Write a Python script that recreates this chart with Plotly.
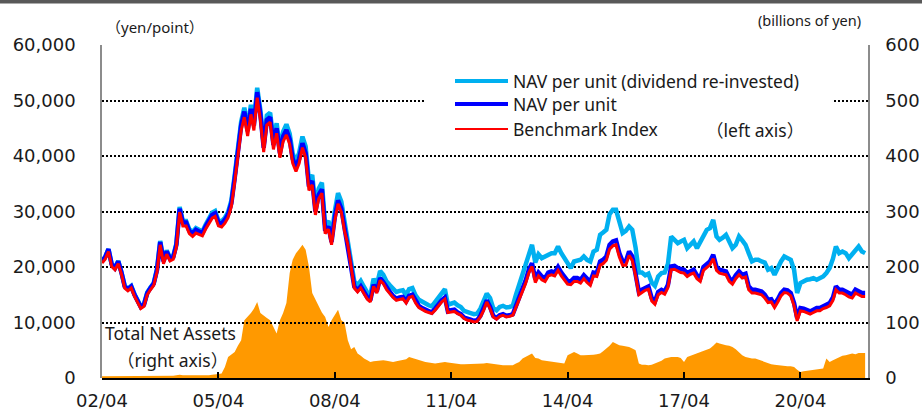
import numpy as np
import pandas as pd
import plotly.graph_objects as go

START = "2002-04-01"  # first monthly observation (April 2002)

# NAV per unit, thousands of yen (monthly; one row per calendar year, 2002 starts in April)
nav_rows = [
    [21.0, 21.8, 23.2, 20.5, 19.8, 21.0, 19.0, 16.5, 16.0],
    [16.5, 15.0, 14.0, 12.8, 13.2, 15.3, 16.2, 17.0, 19.5, 24.5, 21.0, 22.8],
    [21.5, 21.8, 24.0, 30.5, 28.0, 28.0, 26.5, 26.0, 26.7, 26.3, 26.1, 27.3],
    [28.5, 29.4, 29.7, 28.0, 27.8, 28.5, 29.5, 31.5, 36.0, 41.0, 45.5, 48.0],
    [44.5, 48.5, 45.5, 51.5, 47.5, 41.5, 46.5, 47.0, 42.0, 45.0, 40.5, 43.5],
    [44.7, 43.0, 39.5, 38.0, 39.5, 42.3, 40.5, 34.5, 35.5, 30.0, 33.0, 34.0],
    [26.5, 27.3, 24.5, 29.0, 32.0, 30.5, 27.0, 24.5, 20.5, 16.5, 15.8, 16.5],
    [15.5, 14.5, 14.0, 16.8, 15.6, 18.0, 17.3, 16.2, 15.5, 14.8, 14.3, 14.5],
    [14.6, 13.8, 14.8, 15.0, 13.8, 13.0, 12.6, 12.3, 12.0, 11.8, 12.5, 13.3],
    [14.0, 14.5, 12.0, 12.2, 12.3, 11.8, 11.5, 10.9, 10.6, 10.5, 10.3, 10.4],
    [11.2, 12.5, 14.0, 12.8, 11.2, 10.8, 11.3, 11.5, 11.2, 11.3, 11.5, 13.0],
    [14.5, 15.8, 17.5, 19.5, 20.7, 17.8, 19.0, 18.3, 18.0, 19.0, 19.2, 19.0],
    [20.0, 19.0, 18.3, 17.5, 17.4, 18.0, 18.0, 17.7, 18.5, 17.8, 17.3, 19.0],
    [18.9, 21.0, 21.3, 21.9, 24.0, 24.6, 24.8, 22.5, 21.0, 21.0, 22.8, 21.9],
    [19.0, 15.5, 15.9, 16.3, 16.5, 14.4, 13.8, 15.5, 15.9, 15.6, 16.8, 20.1],
    [20.2, 19.8, 19.6, 19.5, 18.9, 19.3, 19.5, 18.5, 18.0, 20.0, 20.6, 21.0],
    [22.2, 20.0, 19.5, 19.3, 19.2, 18.0, 17.5, 18.5, 19.2, 18.6, 18.8, 16.5],
    [15.9, 15.9, 15.8, 15.6, 15.0, 14.1, 14.2, 13.2, 14.2, 15.3, 15.9, 15.8],
    [15.3, 13.5, 10.8, 12.6, 12.5, 12.3, 12.0, 12.3, 12.6, 12.6, 13.0, 13.2],
    [13.5, 14.5, 16.5, 15.9, 15.9, 15.6, 15.2, 15.0, 15.9, 15.6, 15.3, 15.3],
]

# NAV per unit (dividend re-invested), thousands of yen
nav_div_rows = [
    [21.0, 21.8, 23.2, 20.5, 19.9, 21.1, 19.1, 16.6, 16.1],
    [16.6, 15.1, 14.1, 12.9, 13.3, 15.4, 16.3, 17.1, 19.7, 24.7, 21.2, 23.0],
    [21.7, 22.0, 24.2, 30.8, 28.3, 28.3, 26.8, 26.3, 27.0, 26.6, 26.4, 27.6],
    [28.8, 29.8, 30.1, 28.4, 28.2, 28.9, 29.9, 32.0, 36.5, 41.6, 46.2, 48.7],
    [45.2, 49.2, 46.2, 52.3, 48.3, 42.2, 47.3, 47.8, 42.8, 45.9, 41.3, 44.4],
    [45.7, 44.0, 40.5, 39.0, 40.6, 43.5, 41.7, 35.5, 36.6, 31.0, 34.1, 35.2],
    [27.5, 28.3, 25.4, 30.1, 33.3, 31.8, 28.2, 25.6, 21.5, 17.4, 16.7, 17.5],
    [16.4, 15.4, 14.9, 17.9, 16.7, 19.3, 18.6, 17.4, 16.7, 16.0, 15.5, 15.7],
    [15.8, 15.0, 16.0, 16.2, 14.9, 14.1, 13.7, 13.4, 13.1, 12.9, 13.7, 14.6],
    [15.4, 16.0, 13.2, 13.4, 13.6, 13.1, 12.8, 12.1, 11.8, 11.7, 11.5, 11.6],
    [12.5, 13.8, 15.2, 14.4, 12.6, 12.2, 12.8, 13.0, 12.7, 12.8, 13.0, 15.0],
    [16.8, 18.5, 20.5, 22.5, 24.0, 20.8, 22.3, 21.6, 21.9, 22.3, 22.5, 22.5],
    [23.7, 22.5, 21.6, 20.5, 19.8, 21.0, 21.2, 21.3, 21.9, 21.3, 21.0, 22.8],
    [23.1, 25.8, 26.2, 26.7, 29.5, 30.3, 30.3, 28.0, 26.1, 26.5, 27.3, 26.7],
    [23.5, 19.0, 19.0, 18.5, 18.8, 17.2, 16.6, 18.3, 18.9, 19.0, 20.6, 25.5],
    [24.8, 24.3, 24.6, 24.9, 23.4, 24.0, 24.6, 23.4, 24.5, 25.5, 26.7, 27.0],
    [28.5, 25.5, 24.9, 25.3, 25.8, 24.6, 23.4, 24.0, 25.5, 24.8, 24.0, 22.5],
    [21.0, 21.3, 21.3, 21.0, 20.8, 19.5, 19.8, 18.6, 20.0, 21.0, 21.9, 21.6],
    [21.3, 19.5, 15.3, 17.1, 17.5, 17.7, 17.8, 18.0, 17.7, 17.9, 18.3, 18.9],
    [19.8, 21.5, 23.7, 22.5, 22.8, 22.5, 21.6, 22.3, 23.1, 23.7, 22.8, 22.5],
]

# Benchmark index, thousands of points
bench_rows = [
    [20.7, 21.4, 22.8, 20.1, 19.5, 20.6, 18.7, 16.2, 15.7],
    [16.2, 14.7, 13.7, 12.5, 12.9, 15.0, 15.9, 16.7, 19.1, 24.0, 20.6, 22.3],
    [21.1, 21.4, 23.5, 29.9, 27.4, 27.4, 26.0, 25.5, 26.1, 25.8, 25.6, 26.8],
    [27.9, 28.8, 29.1, 27.4, 27.2, 27.9, 28.9, 30.9, 35.3, 40.2, 44.6, 47.0],
    [43.6, 47.5, 44.6, 50.5, 46.5, 40.7, 45.6, 46.1, 41.2, 44.1, 39.7, 42.6],
    [43.8, 42.1, 38.7, 37.2, 38.7, 41.5, 39.7, 33.8, 34.8, 29.4, 32.3, 33.3],
    [26.0, 26.8, 24.0, 28.4, 31.4, 29.9, 26.5, 24.0, 20.1, 16.2, 15.5, 16.2],
    [15.2, 14.2, 13.7, 16.5, 15.3, 17.6, 17.0, 15.9, 15.2, 14.5, 14.0, 14.2],
    [14.3, 13.5, 14.5, 14.7, 13.5, 12.7, 12.3, 12.0, 11.8, 11.6, 12.2, 13.0],
    [13.7, 14.2, 11.8, 11.9, 12.0, 11.6, 11.3, 10.7, 10.4, 10.3, 10.1, 10.2],
    [11.0, 12.2, 13.7, 12.5, 11.0, 10.6, 11.1, 11.3, 11.0, 11.1, 11.3, 12.7],
    [14.1, 15.4, 17.0, 18.9, 20.1, 17.2, 18.4, 17.7, 17.4, 18.4, 18.6, 18.4],
    [19.4, 18.4, 17.7, 16.9, 16.8, 17.4, 17.4, 17.1, 17.9, 17.2, 16.7, 18.4],
    [18.3, 20.3, 20.6, 21.2, 23.2, 23.8, 24.0, 21.8, 20.3, 20.3, 22.1, 21.2],
    [18.4, 15.0, 15.4, 15.8, 16.0, 13.9, 13.3, 15.0, 15.4, 15.1, 16.3, 19.5],
    [19.6, 19.2, 19.0, 18.9, 18.3, 18.7, 18.9, 17.9, 17.4, 19.4, 20.0, 20.4],
    [21.5, 19.4, 18.9, 18.7, 18.6, 17.4, 16.9, 17.9, 18.6, 18.0, 18.2, 15.9],
    [15.3, 15.3, 15.2, 15.0, 14.4, 13.6, 13.7, 12.7, 13.7, 14.8, 15.4, 15.3],
    [14.8, 13.0, 10.3, 12.1, 12.0, 11.8, 11.5, 11.8, 12.1, 12.1, 12.5, 12.7],
    [13.0, 14.0, 15.9, 15.3, 15.3, 15.0, 14.6, 14.4, 15.3, 15.0, 14.7, 14.7],
]

# Total net assets, billions of yen
tna_rows = [
    [3, 3, 3, 3, 3, 3, 3, 3, 3],
    [3, 3, 3, 3, 3, 3, 3, 4, 4, 4, 4, 4],
    [4, 4, 5, 6, 5, 5, 4, 4, 4, 4, 5, 5],
    [5, 6, 6, 7, 8, 20, 38, 42, 47, 58, 68, 104],
    [110, 117, 125, 137, 117, 112, 108, 104, 92, 80, 104, 117],
    [135, 189, 213, 225, 232, 240, 231, 201, 153, 141, 128, 118],
    [110, 92, 104, 115, 123, 104, 100, 68, 52, 56, 44, 40],
    [35, 32, 29, 30, 31, 32, 32, 31, 30, 29, 30, 31],
    [32, 34, 38, 36, 35, 33, 31, 29, 28, 27, 26, 27],
    [28, 29, 28, 27, 26, 26, 25, 25, 25, 25, 26, 26],
    [26, 26, 27, 26, 25, 24, 23, 23, 23, 23, 23, 26],
    [29, 35, 38, 42, 44, 36, 35, 32, 31, 30, 29, 29],
    [28, 27, 26, 41, 44, 47, 44, 41, 41, 41, 41, 42],
    [43, 44, 48, 53, 58, 65, 62, 59, 58, 57, 56, 53],
    [50, 26, 24, 24, 23, 24, 26, 29, 31, 35, 37, 38],
    [38, 38, 36, 29, 38, 40, 42, 44, 46, 48, 50, 53],
    [58, 64, 62, 60, 59, 58, 56, 52, 47, 41, 38, 36],
    [35, 35, 33, 31, 29, 26, 25, 24, 23, 23, 22, 21],
    [21, 20, 15, 11, 12, 13, 14, 15, 16, 16, 17, 35],
    [29, 32, 35, 38, 40, 41, 42, 44, 43, 45, 45, 45],
]

x_tick_dates = ["2002-04-01", "2005-04-01", "2008-04-01", "2011-04-01",
                "2014-04-01", "2017-04-01", "2020-04-01"]
x_tick_labels = ["02/04", "05/04", "08/04", "11/04", "14/04", "17/04", "20/04"]
left_ticks = [0, 10000, 20000, 30000, 40000, 50000, 60000]
right_ticks = [0, 100, 200, 300, 400, 500, 600]


def flat(rows):
    return [v for r in rows for v in r]


def monthly(vals):
    return pd.date_range(START, periods=len(vals), freq="MS")


nav = np.array(flat(nav_rows)) * 1000
nav_div = np.array(flat(nav_div_rows)) * 1000
bench = np.array(flat(bench_rows)) * 1000
tna = np.array(flat(tna_rows))

C_LB = "#00B0F0"
C_DB = "#0000FF"
C_RED = "#FF0000"
C_OR = "#FF9900"
TICK_FONT = dict(family="DejaVu Sans", size=18, color="#1a1a1a")
TXT = "Noto Sans, Noto Sans CJK JP"

fig = go.Figure()
# Subplot 1: total net assets (right axis)
fig.add_trace(go.Scatter(x=monthly(tna), y=tna, mode="lines", fill="tozeroy",
                         line=dict(width=0, color=C_OR), fillcolor=C_OR,
                         name="Total Net Assets", xaxis="x", yaxis="y",
                         showlegend=False))
# Subplot 2: prices (left axis) drawn above
fig.add_trace(go.Scatter(x=monthly(nav_div), y=nav_div, mode="lines",
                         line=dict(color=C_LB, width=4.5),
                         name="NAV per unit (dividend re-invested)",
                         xaxis="x2", yaxis="y2", showlegend=False))
fig.add_trace(go.Scatter(x=monthly(nav), y=nav, mode="lines",
                         line=dict(color=C_DB, width=4.5),
                         name="NAV per unit", xaxis="x2", yaxis="y2",
                         showlegend=False))
fig.add_trace(go.Scatter(x=monthly(bench), y=bench, mode="lines",
                         line=dict(color=C_RED, width=3),
                         name="Benchmark Index", xaxis="x2", yaxis="y2",
                         showlegend=False))

XR = ["2002-04-01", "2021-12-28"]

fig.update_layout(
    width=922, height=413,
    margin=dict(l=102, r=54, t=45, b=35),
    paper_bgcolor="white", plot_bgcolor="rgba(0,0,0,0)",
    xaxis=dict(type="date", range=XR, domain=[0, 1], anchor="y",
               tickvals=x_tick_dates, ticktext=x_tick_labels,
               ticks="inside", ticklen=6, tickwidth=1.5, tickcolor="#000",
               ticklabelstandoff=5, automargin=False,
               showline=True, linecolor="#000", linewidth=2,
               showgrid=False, zeroline=False, tickfont=TICK_FONT),
    yaxis=dict(range=[0, 600], side="right", anchor="x",
               tickvals=right_ticks, ticks="", showgrid=False, zeroline=False,
               ticklabelstandoff=12, automargin=False,
               showline=True, linecolor="#8c8c8c", linewidth=1.5,
               tickfont=TICK_FONT),
    xaxis2=dict(type="date", range=XR, domain=[0, 1], anchor="y2",
                matches="x", visible=False, automargin=False),
    yaxis2=dict(range=[0, 60000], side="left", anchor="x2",
                tickvals=left_ticks, tickformat=",d", ticks="",
                ticklabelstandoff=21, automargin=False,
                showgrid=True, gridcolor="#000", gridwidth=2, griddash="2px,2px",
                zeroline=False, showline=True, linecolor="#8c8c8c",
                linewidth=1.5, tickfont=TICK_FONT),
)


def px(xp):
    return (xp - 102) / 766


def py(yp):
    return (378 - yp) / 333


shapes = [
    dict(type="rect", xref="paper", yref="paper", x0=-0.2, x1=1.2,
         y0=py(3.5), y1=py(-20), fillcolor="#595959", line_width=0, layer="above"),
    dict(type="rect", xref="paper", yref="paper", x0=px(425), x1=px(833),
         y0=py(142), y1=py(62), fillcolor="white", line_width=0, layer="above"),
    dict(type="line", xref="paper", yref="paper", x0=px(455), x1=px(508),
         y0=py(81), y1=py(81), line=dict(color=C_LB, width=4), layer="above"),
    dict(type="line", xref="paper", yref="paper", x0=px(455), x1=px(508),
         y0=py(104), y1=py(104), line=dict(color=C_DB, width=4), layer="above"),
    dict(type="line", xref="paper", yref="paper", x0=px(455), x1=px(508),
         y0=py(129), y1=py(129), line=dict(color=C_RED, width=2), layer="above"),
]

ann_font = dict(family=TXT, size=17.5, color="#1a1a1a")
annotations = [
    dict(text="（yen/point）", x=px(104), y=py(27), xanchor="left",
         font=dict(family=TXT, size=15, color="#1a1a1a")),
    dict(text="(billions of yen)", x=px(863), y=py(20), xanchor="right",
         font=dict(family=TXT, size=14.5, color="#1a1a1a")),
    dict(text="NAV per unit (dividend re-invested)", x=px(511), y=py(81),
         xanchor="left", font=ann_font),
    dict(text="NAV per unit", x=px(511), y=py(104), xanchor="left", font=ann_font),
    dict(text="Benchmark Index", x=px(511), y=py(129), xanchor="left", font=ann_font),
    dict(text="（left axis）", x=px(806), y=py(130), xanchor="right", font=ann_font),
    dict(text="Total Net Assets", x=px(103), y=py(333), xanchor="left", font=ann_font),
    dict(text="（right axis）", x=px(172), y=py(360), xanchor="center", font=ann_font),
]
for a in annotations:
    a.update(xref="paper", yref="paper", yanchor="middle", showarrow=False)

fig.update_layout(shapes=shapes, annotations=annotations)

fig.write_html("out.html", config={"displayModeBar": False},
               post_script="document.body.style.margin='0';document.body.style.overflow='hidden';")
